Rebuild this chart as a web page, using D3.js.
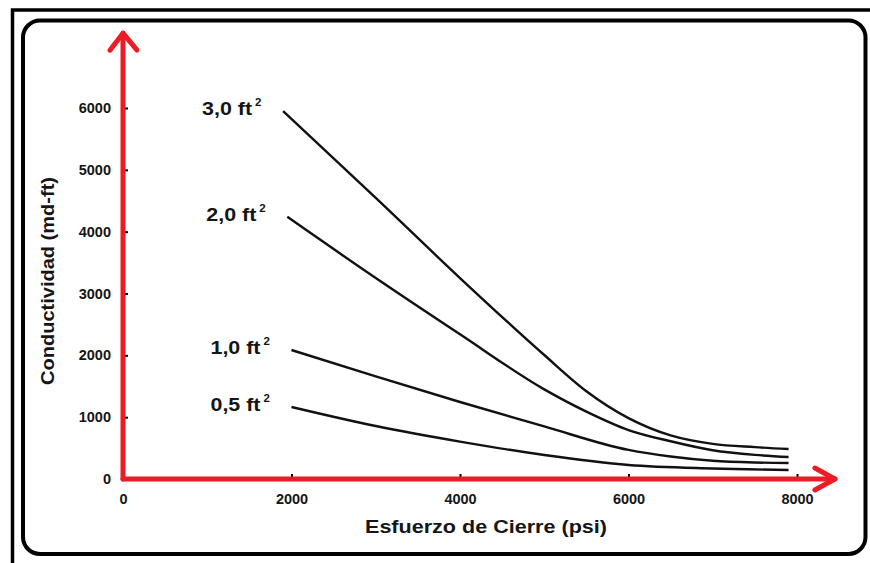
<!DOCTYPE html>
<html><head><meta charset="utf-8">
<script src="https://cdn.jsdelivr.net/npm/d3@7"></script>
<style>
body{margin:0;background:#fff}
svg{display:block}
text{font-family:"Liberation Sans",Arial,Helvetica,sans-serif;font-weight:bold;fill:#151515}
</style>
</head><body>
<svg id="c" width="870" height="563"></svg>
<script>
// ---- data ----
const seriesLabels = ["3,0 ft", "2,0 ft", "1,0 ft", "0,5 ft"];
const stress30 = [1900, 3000, 4000, 5000, 5500, 6000, 6500, 7000, 7500, 7900];
const cond30   = [5950, 4545, 3250, 2005, 1420, 985, 705, 568, 515, 485];
const stress20 = [1950, 3000, 4000, 5000, 5500, 6000, 6500, 7000, 7500, 7900];
const cond20   = [4240, 3250, 2340, 1450, 1090, 792, 610, 465, 390, 356];
const stress10 = [2000, 3000, 4000, 5000, 6000, 6500, 7000, 7500, 7900];
const cond10   = [2086, 1660, 1245, 850, 470, 364, 295, 267, 259];
const stress05 = [2000, 3000, 4000, 5000, 6000, 7000, 7900];
const cond05   = [1165, 857, 605, 388, 226, 170, 146];
const xTickValues = [0, 2000, 4000, 6000, 8000];
const xTickLabels = ["0", "2000", "4000", "6000", "8000"];
const yTickValues = [0, 1000, 2000, 3000, 4000, 5000, 6000];
const yTickLabels = ["0", "1000", "2000", "3000", "4000", "5000", "6000"];
const xTitle = "Esfuerzo de Cierre (psi)";
const yTitle = "Conductividad (md-ft)";

const series = [
  {label: seriesLabels[0], xs: stress30, ys: cond30},
  {label: seriesLabels[1], xs: stress20, ys: cond20},
  {label: seriesLabels[2], xs: stress10, ys: cond10},
  {label: seriesLabels[3], xs: stress05, ys: cond05}
];

// ---- layout ----
const svg = d3.select("#c");
const x = d3.scaleLinear().domain([0, 8000]).range([123, 797]);
const y = d3.scaleLinear().domain([0, 6000]).range([479, 108]);
const RED = "#ec1c24";

// frames
svg.append("rect").attr("x", 12.5).attr("y", 10).attr("width", 900).attr("height", 620)
  .attr("fill", "none").attr("stroke", "#000").attr("stroke-width", 3.5);
svg.append("rect").attr("x", 23).attr("y", 20.5).attr("width", 842.5).attr("height", 533.5)
  .attr("rx", 17).attr("ry", 17)
  .attr("fill", "#fff").attr("stroke", "#000").attr("stroke-width", 4);

// axes (ticks + labels)
const yAxis = d3.axisLeft(y).tickValues(yTickValues).tickSize(-5).tickPadding(12)
  .tickFormat((d, i) => yTickLabels[i]);
const gy = svg.append("g").attr("transform", `translate(${x(0)},0)`).call(yAxis);
const xAxis = d3.axisBottom(x).tickValues(xTickValues).tickSize(-5).tickPadding(15)
  .tickFormat((d, i) => xTickLabels[i]);
const gx = svg.append("g").attr("transform", `translate(0,${y(0)})`).call(xAxis);
[gx, gy].forEach(g => {
  g.select(".domain").remove();
  g.selectAll(".tick line").attr("stroke", "#000").attr("stroke-width", 2);
  g.selectAll(".tick text").attr("font-size", 14.5).attr("fill", "#151515")
    .attr("font-family", '"Liberation Sans",Arial,sans-serif').attr("font-weight", "bold");
});
gy.selectAll(".tick").filter(d => d === 0).select("line").remove();
gx.selectAll(".tick").filter(d => d === 0).select("line").remove();

// red axis lines with arrows
const x0 = x(0), y0 = y(0);
const yTop = y(7210), xEnd = x(8450);
const axisG = svg.append("g").attr("fill", "none").attr("stroke", RED)
  .attr("stroke-width", 5).attr("stroke-linecap", "round").attr("stroke-linejoin", "round");
axisG.append("line").attr("x1", x0).attr("y1", y0).attr("x2", x0).attr("y2", yTop);
axisG.append("line").attr("x1", x0).attr("y1", y0).attr("x2", xEnd).attr("y2", y0);
axisG.append("polyline").attr("points", `${x0-13},${yTop+17} ${x0},${yTop} ${x0+14},${yTop+17}`);
axisG.append("polyline").attr("points", `${xEnd-20},${y0-11} ${xEnd},${y0} ${xEnd-20},${y0+11}`);

// curves
const line = d3.line().x(d => x(d[0])).y(d => y(d[1])).curve(d3.curveMonotoneX);
series.forEach(s => {
  const pts = s.xs.map((v, i) => [v, s.ys[i]]);
  svg.append("path").datum(pts).attr("d", line)
    .attr("fill", "none").attr("stroke", "#111").attr("stroke-width", 2.4);
  const sx = x(s.xs[0]), sy = y(s.ys[0]);
  svg.append("text").attr("x", sx - 31 - 50).attr("y", sy + 4)
    .attr("font-size", 18).attr("textLength", 50).attr("lengthAdjust", "spacingAndGlyphs")
    .text(s.label);
  svg.append("text").attr("x", sx - 31 + 3).attr("y", sy + 4 - 9)
    .attr("font-size", 11.5).text("2");
});

// titles
svg.append("text").attr("x", 486).attr("y", 533).attr("text-anchor", "middle")
  .attr("font-size", 18).attr("textLength", 242).attr("lengthAdjust", "spacingAndGlyphs")
  .text(xTitle);
svg.append("text").attr("transform", "translate(54,281) rotate(-90)").attr("text-anchor", "middle")
  .attr("font-size", 18).attr("textLength", 208).attr("lengthAdjust", "spacingAndGlyphs")
  .text(yTitle);
</script>
</body></html>
